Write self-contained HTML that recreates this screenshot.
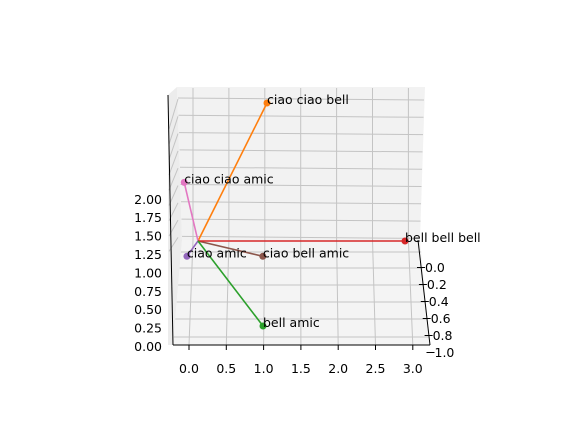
<!DOCTYPE html>
<html><head><meta charset="utf-8"><style>
html,body{margin:0;padding:0;background:#fff;}
svg text{font-family:"DejaVu Sans","Liberation Sans",sans-serif;font-size:12.5px;fill:#000;}
</style></head><body>
<svg id="chart" width="576" height="432" viewBox="0 0 576 432" xmlns="http://www.w3.org/2000/svg">
<g id="panes">
  <polygon points="177,87 425,87 420,240 182,240" fill="#f2f2f2" stroke="none"/>
  <polygon points="182,240 420,240 430,345 173,345" fill="#f4f4f4" stroke="none"/>
  <polygon points="168,95 177,87 182,240 173,345 168,345" fill="#ececec" stroke="none"/>
</g>
<g id="grid"></g>
<g id="axes">
  <line x1="173" y1="345" x2="430" y2="345" stroke="#000" stroke-width="1"/>
  <line x1="418" y1="240" x2="430" y2="345" stroke="#000" stroke-width="1"/>
  <line x1="168" y1="95" x2="173" y2="345" stroke="#000" stroke-width="1"/>
</g>
<g id="ticks"></g>
<g id="series"></g>
</svg>
<script>
const names = ["ciao ciao bell","ciao ciao amic","ciao amic","ciao bell amic","bell bell bell","bell amic"];
const colors = ["#ff7f0e","#e377c2","#9467bd","#8c564b","#d62728","#2ca02c"];
const xs = [1, -0.2, -0.15, 0.95, 3, 1];
const ys = [0, 0, 0.18, 0.18, 0, 1];
const zs = [3.5, 2.35, 1.5, 1.5, 1.5, 1.5];
const origin = [0, 0, 1.5];
const xTicks = ["0.0","0.5","1.0","1.5","2.0","2.5","3.0"];
const yTicks = ["0.0","0.2","0.4","0.6","0.8","1.0"];
const zTicks = ["0.00","0.25","0.50","0.75","1.00","1.25","1.50","1.75","2.00"];

function px(x,y,z){ return 198 + 69*x - 4*y; }
function py(x,y,z){ return 241 - 69*(z-1.5) + 85*y; }

const NS="http://www.w3.org/2000/svg";
function mk(tag, attrs, parent){ const e=document.createElementNS(NS,tag); for(const k in attrs) e.setAttribute(k,attrs[k]); parent.appendChild(e); return e; }

const grid=document.getElementById('grid');
const gc="#c4c4c4";
for(let i=0;i<9;i++){ const y=99+17.3*i; const l=mk('line',{x1:178+i*0.5,y1:y-1,x2:424-i*0.5,y2:y+1,stroke:gc,'stroke-width':1},grid);
  }
for(let i=0;i<7;i++){ const xb=193+35.9*i, xf=189+37.3*i;
 const l=mk('polyline',{points:`${xb},88 ${xb},240 ${xf},345`,fill:'none',stroke:gc,'stroke-width':1},grid);
   }
const fl=[252,268,285,302,319,337];
fl.forEach((y,i)=>{ const t=(y-240)/105; const l=mk('line',{x1:182-9*t,y1:y,x2:420+10*t,y2:y,stroke:gc,'stroke-width':1},grid);
   });
for(let i=0;i<9;i++){ const y=99+17.3*i; const l=mk('line',{x1:169,y1:y+30-i*2,x2:178,y2:y,stroke:gc,'stroke-width':1},grid);
   }

const ticks=document.getElementById('ticks');
xTicks.forEach((t,i)=>{ const x=189+37.3*i;
 const tl=mk('line',{x1:x,y1:345,x2:x,y2:350,stroke:'#000'},ticks);
  
 const e=mk('text',{x:x,y:373,'text-anchor':'middle'},ticks); e.textContent=t;
   });
yTicks.forEach((t,i)=>{ const y=268+17*i; const x=421+1.9*i;
 const tl=mk('line',{x1:x-4,y1:y-0.5,x2:x+4,y2:y-0.5,stroke:'#000'},ticks);
  
 const e=mk('text',{x:x+4,y:y+4},ticks); e.textContent=t;
   });
zTicks.forEach((t,i)=>{ const y=347-18.4*i;
 const e=mk('text',{x:162,y:y+4,'text-anchor':'end'},ticks); e.textContent=t;
   });

const series=document.getElementById('series');
const ox=px(...origin), oy=py(...origin);
names.forEach((n,i)=>{
 const x=px(xs[i],ys[i],zs[i]), y=py(xs[i],ys[i],zs[i]);
 const l=mk('line',{x1:ox,y1:oy,x2:x,y2:y,stroke:colors[i],'stroke-width':1.6},series);
  
 const c=mk('circle',{cx:x,cy:y,r:3.5,fill:colors[i]},series);
  
});
names.forEach((n,i)=>{
 const x=px(xs[i],ys[i],zs[i]), y=py(xs[i],ys[i],zs[i]);
 const t=mk('text',{x:x,y:y+1},series); t.textContent=n;
  
});
</script>
</body></html>
